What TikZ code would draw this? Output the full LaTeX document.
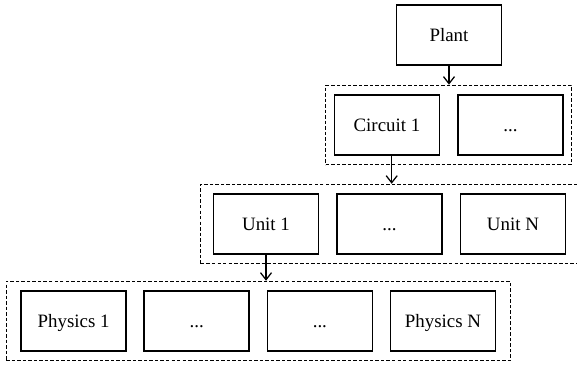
\documentclass[tikz,border=0pt]{standalone}
\usepackage{fontspec}
\setmainfont{Liberation Serif}
\usepackage{tikz}
\usetikzlibrary{positioning, fit, arrows.meta}
\tikzstyle{block} = [rectangle, minimum width=66.6pt, minimum height=38.1pt, text height=8pt, text depth=0pt, text centered, draw=black, line width=1pt, font=\fontsize{12}{14}\selectfont]
\tikzstyle{group} = [rectangle, draw=black, line width=0.6pt, dash pattern=on 2.2pt off 1.3pt, inner xsep=7.5pt, inner ysep=5.7pt]
\tikzstyle{arrow} = [line width=0.8pt,->,>={Straight Barb[length=4.5pt,width=7pt]}]

\begin{document}
\begin{tikzpicture}[x=0.635pt, y=-0.635pt, node distance=10.8pt]
	\useasboundingbox (0,0) rectangle (577,365);
	\node (plant) [block] at (449,35) {Plant};
	\node (circ1) [block, below=18pt of plant, xshift=-39.4pt] {Circuit 1};
	\node (circdots) [block, right=of circ1] {...};
	\node (unit1) [block, below=23.8pt of circ1, xshift=-76.8pt] {Unit 1};
	\node (unitdots) [block, right=of unit1] {...};
	\node (unitN) [block, right=of unitdots] {Unit N};
	\node (phys1) [block, below=22.5pt of unit1, xshift=-122.2pt] {Physics 1};
	\node (physa) [block, right=10.6pt of phys1] {...};
	\node (physb) [block, right=10.6pt of physa] {...};
	\node (physN) [block, right=10.6pt of physb] {Physics N};
	\node (circgrp) [group, inner xsep=5pt, fit=(circ1) (circdots)] {};
	\node (unitgrp) [group, fit=(unit1) (unitN)] {};
	\node (physgrp) [group, inner xsep=9pt, fit=(phys1) (physN)] {};
	\draw [arrow] (plant) -- (plant.south |- circgrp.north);
	\draw [arrow] ([xshift=3pt]circ1.south) -- ([xshift=3pt]circ1.south |- unitgrp.north);
	\draw [arrow] (unit1) -- (unit1.south |- physgrp.north);
\end{tikzpicture}
\end{document}
